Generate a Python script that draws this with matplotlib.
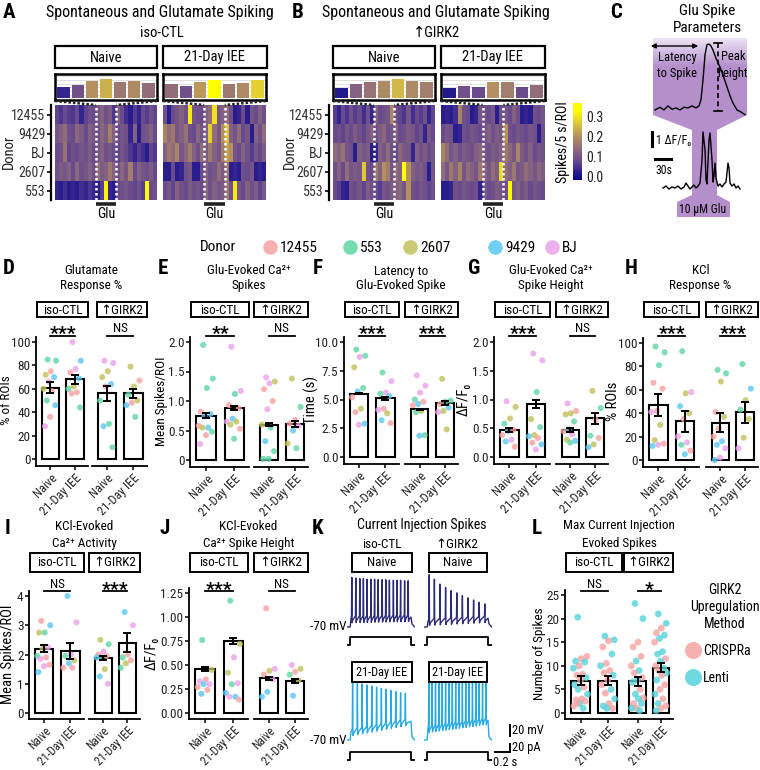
import numpy as np
import matplotlib
matplotlib.use("Agg")
import matplotlib.pyplot as plt
from matplotlib import font_manager
from matplotlib.colors import LinearSegmentedColormap, Normalize
from matplotlib.patches import Rectangle, Polygon
from matplotlib.cm import ScalarMappable

_tt = font_manager.fontManager.ttflist
_names = {f.name for f in _tt}
FS = 1.0
_chosen = None
for cand in ['Liberation Sans Narrow', 'Arial Narrow', 'Roboto Condensed', 'Archivo Narrow']:
    if cand in _names:
        _chosen = cand
        break
if _chosen:
    plt.rcParams['font.family'] = [_chosen, 'DejaVu Sans']
else:
    plt.rcParams['font.family'] = ['Liberation Sans', 'DejaVu Sans']
    FS = 0.86

# ===================== DATA =====================
HM_ROWS = ['12455', '9429', 'BJ', '2607', '553']
GLU_WIN = (10, 15)   # glutamate window (columns)

# heatmaps: spikes / 5 s / ROI  (x 0.01)
HM_A_NAIVE = [
    [7, 5, 8, 6, 5, 8, 3, 7, 9, 8, 10, 12, 9, 11, 5, 12, 8, 4, 2, 6, 3, 8, 6, 9, 7],
    [10, 12, 14, 9, 8, 13, 11, 8, 12, 10, 9, 13, 11, 17, 12, 8, 10, 9, 3, 12, 2, 9, 10, 12, 8],
    [8, 9, 15, 7, 9, 8, 10, 9, 11, 8, 10, 12, 9, 10, 8, 7, 10, 8, 5, 3, 6, 4, 2, 7, 5],
    [9, 11, 10, 12, 8, 13, 9, 10, 12, 9, 14, 11, 12, 16, 12, 9, 13, 10, 17, 8, 12, 10, 9, 11, 8],
    [3, 2, 4, 2, 3, 2, 4, 3, 5, 3, 2, 6, 32, 3, 2, 8, 9, 10, 8, 7, 9, 6, 33, 8, 9]]
HM_A_IEE = [
    [9, 2, 8, 10, 12, 9, 31, 10, 9, 8, 12, 14, 30, 10, 12, 14, 9, 2, 3, 8, 2, 10, 8, 12, 9],
    [18, 14, 16, 10, 12, 15, 9, 8, 13, 10, 12, 28, 14, 10, 20, 26, 12, 10, 14, 8, 10, 2, 12, 9, 14],
    [12, 16, 14, 18, 10, 13, 17, 12, 9, 14, 11, 16, 12, 10, 17, 22, 20, 10, 8, 12, 9, 6, 10, 8, 11],
    [2, 2, 8, 2, 3, 9, 10, 2, 2, 8, 12, 9, 10, 14, 11, 16, 2, 3, 2, 9, 8, 10, 2, 3, 2],
    [8, 10, 7, 12, 9, 8, 11, 9, 10, 8, 13, 9, 12, 10, 11, 16, 9, 31, 10, 8, 12, 9, 11, 7, 10]]
HM_B_NAIVE = [
    [6, 3, 8, 5, 9, 6, 8, 4, 9, 3, 12, 8, 9, 10, 18, 9, 7, 5, 10, 4, 8, 6, 9, 3, 7],
    [8, 9, 7, 10, 8, 11, 9, 7, 10, 12, 9, 11, 13, 9, 10, 12, 8, 9, 11, 10, 7, 9, 3, 10, 8],
    [14, 12, 15, 10, 9, 2, 12, 10, 11, 2, 3, 12, 10, 14, 9, 8, 13, 11, 10, 3, 12, 9, 11, 8, 10],
    [9, 12, 8, 14, 10, 11, 10, 27, 9, 8, 16, 12, 20, 17, 10, 14, 12, 33, 20, 12, 10, 11, 9, 2, 10],
    [8, 6, 3, 2, 9, 8, 10, 7, 11, 9, 8, 6, 10, 9, 11, 12, 13, 10, 20, 9, 8, 10, 9, 7, 9]]
HM_B_IEE = [
    [2, 3, 2, 4, 18, 9, 8, 2, 3, 10, 9, 8, 10, 2, 9, 10, 8, 12, 9, 2, 3, 2, 9, 8, 10],
    [8, 10, 9, 2, 3, 9, 8, 10, 9, 8, 10, 12, 9, 11, 10, 20, 9, 8, 10, 9, 8, 10, 9, 2, 9],
    [18, 14, 10, 12, 9, 11, 10, 9, 12, 13, 10, 9, 11, 10, 12, 16, 13, 10, 18, 11, 9, 12, 8, 10, 9],
    [14, 10, 16, 12, 18, 10, 14, 12, 10, 16, 12, 10, 14, 11, 29, 14, 12, 16, 10, 11, 14, 12, 10, 13, 11],
    [2, 2, 3, 9, 8, 10, 9, 8, 9, 3, 10, 8, 9, 11, 10, 9, 33, 10, 12, 9, 11, 8, 10, 9, 8]]

# zoomed glutamate-window bars (relative height, colour value)
ZB_A_NAIVE_H = [0.42, 0.51, 0.69, 0.74, 0.65, 0.68, 0.59]
ZB_A_NAIVE_C = [0.03, 0.09, 0.20, 0.24, 0.16, 0.19, 0.14]
ZB_A_IEE_H = [0.54, 0.47, 0.62, 0.73, 0.57, 0.61, 0.70]
ZB_A_IEE_C = [0.14, 0.09, 0.21, 0.33, 0.16, 0.19, 0.28]
ZB_B_NAIVE_H = [0.41, 0.55, 0.64, 0.69, 0.76, 0.68, 0.64]
ZB_B_NAIVE_C = [0.01, 0.12, 0.15, 0.19, 0.25, 0.19, 0.17]
ZB_B_IEE_H = [0.38, 0.47, 0.43, 0.62, 0.64, 0.45, 0.53]
ZB_B_IEE_C = [0.01, 0.09, 0.08, 0.20, 0.17, 0.08, 0.14]

CB_TICKS = [0.0, 0.1, 0.2, 0.3]

# panel C traces
C_ZOOM_T = [0.4, 1.4, 2.2, 3.0, 3.8, 4.6, 5.4, 6.2, 7.0, 7.8, 8.6, 9.2, 9.6, 10.0, 10.4, 10.8,
            11.2, 11.6, 12.0, 12.6, 13.4, 14.2, 14.8, 15.4, 16.0, 16.8, 17.6, 18.4]
C_ZOOM_F = [0.03, 0.07, 0.03, 0.09, 0.04, 0.06, 0.03, 0.07, 0.06, 0.09, 0.06, 0.09, 0.18, 0.47,
            0.84, 0.99, 1.0, 0.97, 0.91, 0.79, 0.66, 0.50, 0.37, 0.24, 0.13, 0.03, 0.0, -0.04]
C_FULL_T = [5.6, 11.3, 16.9, 22.5, 28.1, 33.8, 39.4, 45.0, 48.8, 52.5, 56.3, 60.0, 63.8, 67.5,
            71.3, 75.0, 78.8, 80.6, 84.4, 86.3, 88.1, 91.9, 93.8, 97.5, 99.4, 101.3, 103.1,
            105.0, 108.8, 112.5, 116.3, 120.0, 123.8, 127.5, 129.4, 131.3, 135.0, 138.8,
            142.5, 146.3, 150.0]
C_FULL_F = [0.0, 0.15, -0.08, 0.08, 0.0, 0.15, -0.08, 0.08, 0.38, 0.15, -0.08, 0.08, 0.23, 0.0,
            0.15, 0.38, 2.15, 4.31, 2.92, 0.62, 0.31, 3.69, 4.23, 2.15, 0.46, 1.0, 1.92, 0.77,
            0.15, 0.31, 0.08, 0.31, 0.46, 1.92, 1.54, 0.38, 0.15, 0.31, 0.0, 0.15, -0.08]

DONORS = ['12455', '553', '2607', '9429', 'BJ']
DONOR_CODES = ['S', 'G', 'O', 'B', 'P']
GROUP_LABELS = ['Naive', '21-Day IEE']

D_VALS = [[85, 84, 75, 72, 70, 66, 60, 58, 50, 46, 36, 28],
          [100, 84, 77, 74, 69, 62, 60, 57, 56, 44],
          [84, 82, 75, 70, 64, 62, 50, 30, 28, 10],
          [79, 67, 62, 55, 50, 48, 46, 36]]
D_DON = ["GGSOBPOSGBSP", "PBPSBOGSSG", "PPOOBSGGBG", "OSOGOSBG"]
D_MEAN = [61, 68, 56, 56]
D_SEM = [5, 4, 6.5, 4]
D_SIG = ['***', 'NS']

E_VALS = [[1.95, 1.38, 1.22, 0.82, 0.78, 0.74, 0.58, 0.55, 0.55, 0.48, 0.42, 0.27],
          [1.92, 1.17, 1.12, 0.93, 0.88, 0.70, 0.65, 0.65, 0.60, 0.53, 0.36],
          [1.40, 1.33, 1.30, 1.20, 1.00, 0.86, 0.60, 0.55, 0.32, 0.15, 0.02, 0.02],
          [1.38, 0.90, 0.68, 0.62, 0.58, 0.50, 0.28, 0.20]]
E_DON = ["GGGSBBSBOGSP", "PPGSSBPOOSG", "POPSSPOGBGGG", "OGSSPBOG"]
E_MEAN = [0.75, 0.88, 0.60, 0.61]
E_SEM = [0.04, 0.04, 0.03, 0.05]
E_SIG = ['**', 'NS']

F_VALS = [[9.35, 8.8, 8.7, 7.8, 6.0, 5.7, 5.2, 4.2, 3.9, 2.9, 2.8],
          [7.35, 6.6, 5.6, 5.5, 5.3, 4.2, 4.1, 3.8, 3.2, 2.95],
          [7.1, 6.2, 5.6, 5.0, 4.8, 4.6, 4.5, 4.0, 3.9, 1.9, 1.85],
          [6.8, 4.9, 4.8, 4.6, 4.3, 4.0, 3.9, 2.4]]
F_DON = ["GGPOGBSOSBP", "GPPGBSPOBS", "PPPGSBSOGGB", "OGGSBOPO"]
F_MEAN = [5.5, 5.1, 4.15, 4.7]
F_SEM = [0.05, 0.15, 0.05, 0.15]
F_SIG = ['***', '***']

G_VALS = [[0.97, 0.87, 0.67, 0.58, 0.47, 0.45, 0.38, 0.30, 0.27, 0.18],
          [1.80, 1.68, 1.13, 0.66, 0.52, 0.38, 0.36, 0.33, 0.25, 0.22, 0.13],
          [0.93, 0.80, 0.76, 0.74, 0.62, 0.48, 0.45, 0.40, 0.30, 0.28, 0.25],
          [1.15, 0.85, 0.65, 0.37, 0.33, 0.22, 0.17]]
G_DON = ["POOGSBSPBS", "PPGOGOBSSBP", "PSOOGBSPOBG", "OGSGSOB"]
G_MEAN = [0.47, 0.92, 0.47, 0.67]
G_SEM = [0.03, 0.07, 0.04, 0.09]
G_SIG = ['***', 'NS']

H_VALS = [[97, 92, 81, 66, 61, 42, 41, 30, 17, 14, 13, 12],
          [93, 58, 57, 46, 40, 35, 20, 15, 13, 8, 5],
          [77, 74, 67, 41, 37, 27, 20, 16, 13, 10, 2, 0],
          [82, 61, 51, 43, 35, 19, 10]]
H_DON = ["GGGSSSPOOSPB", "GPOBOSPPGSB", "GGOSOSSBBPPB", "GBOGOOP"]
H_MEAN = [47, 33, 32, 41]
H_SEM = [9, 9, 8, 9]
H_SIG = ['***', '***']

I_VALS = [[3.15, 3.0, 2.75, 2.75, 2.25, 2.2, 1.95, 1.9, 1.85, 1.65, 1.6, 1.4],
          [4.0, 3.1, 2.0, 1.95, 1.8, 1.7, 1.55, 1.55],
          [2.5, 2.35, 2.1, 2.0, 1.95, 1.9, 1.9, 1.5, 1.25, 1.0],
          [3.45, 3.0, 2.0, 1.9, 1.8, 1.7, 1.55]]
I_DON = ["SBGOPOGSPSPB", "BPPGOBSS", "OGPSSGBOBP", "BPSGSOG"]
I_MEAN = [2.2, 2.12, 1.88, 2.4]
I_SEM = [0.12, 0.27, 0.08, 0.32]
I_SIG = ['NS', '***']

J_VALS = [[0.76, 0.45, 0.35, 0.33, 0.30, 0.30, 0.27, 0.24, 0.20],
          [1.17, 0.72, 0.58, 0.42, 0.31, 0.30, 0.21, 0.17, 0.17, 0.14],
          [1.09, 0.46, 0.44, 0.40, 0.35, 0.22, 0.17],
          [0.50, 0.46, 0.43, 0.40, 0.34, 0.18]]
J_DON = ["GOSPPBSSB", "GOPOPGBBPS", "SPOSPBB", "POSGOB"]
J_MEAN = [0.46, 0.75, 0.36, 0.33]
J_SEM = [0.02, 0.03, 0.02, 0.02]
J_SIG = ['***', 'NS']

METHODS = ['CRISPRa', 'Lenti']
L_VALS = [[20.3, 12, 11.5, 11, 10.8, 10, 9.5, 8.2, 8, 7.5, 7, 6, 5.5, 5, 4, 3, 2.8, 2.5, 2, 1.5, 1, 2.2],
          [16.3, 15.5, 15.3, 14, 12.5, 10.5, 10, 9, 8.5, 8, 7, 6, 5, 4.2, 3, 2, 1.5, 1, 1],
          [23.2, 20, 15, 14, 12, 11, 10, 9, 8.5, 7.5, 7, 6.5, 5, 4, 3.2, 3, 2, 2, 1, 1, 0.5],
          [21, 19, 18, 17, 16.5, 15.8, 15, 13, 12.5, 11.5, 11, 10, 9.5, 9, 8.5, 8, 7, 6, 5, 4, 3, 2,
           1.5, 1, 0.5]]
L_MET = ["LCCLLCLCCLCLCLLCCCLCLC", "LLCCLCLCCLCCLCLCLCL", "LLCCCLCLCCLLCLCLCLCLL",
         "LLCCLLCLLCLCLCLCLCCLCLCCL"]
L_MEAN = [6.8, 6.8, 6.7, 9.6]
L_SEM = [0.95, 0.95, 0.95, 1.0]
L_SIG = ['NS', '*']

# current injection (panel K)
K_HOLD = -70.0
K_STEP = (0.04, 0.80)
K_T_END = 0.85
K_STEP_PA = 20
K_ISO_NAIVE_T = [0.06, 0.11, 0.16, 0.205, 0.25, 0.30, 0.345, 0.39, 0.44, 0.485, 0.53, 0.58,
                 0.625, 0.67, 0.72, 0.765]
K_ISO_NAIVE_P = [20, 19, 18, 18, 17, 17, 17, 16, 16, 16, 15, 15, 15, 15, 14, 14]
K_ISO_NAIVE_TR = (-58, -56)
K_GIRK_NAIVE_T = [0.065, 0.13, 0.20, 0.27, 0.34, 0.41, 0.48, 0.55, 0.62, 0.69, 0.76]
K_GIRK_NAIVE_P = [25, 17, 8, 2, -4, -8, -13, -17, -21, -25, -28]
K_GIRK_NAIVE_TR = (-63, -58)
K_ISO_IEE_T = [0.07, 0.13, 0.19, 0.25, 0.31, 0.37, 0.43, 0.49, 0.55, 0.61, 0.67, 0.73]
K_ISO_IEE_P = [35, 34, 32, 30, 28, 26, 24, 22, 20, 18, 16, 15]
K_ISO_IEE_TR = (-58, -40)
K_GIRK_IEE_T = [0.06, 0.102, 0.144, 0.186, 0.228, 0.27, 0.312, 0.354, 0.396, 0.438, 0.48,
                0.522, 0.564, 0.606, 0.648, 0.69, 0.732, 0.774]
K_GIRK_IEE_P = [35, 36, 36, 36, 36, 35, 35, 35, 35, 35, 34, 34, 34, 34, 33, 33, 33, 33]
K_GIRK_IEE_TR = (-52, -38)

# ===================== STYLE =====================
W, H = 760, 770
COL = {'S': '#F7A1A1', 'G': '#5FD5A5', 'O': '#C1C05C', 'B': '#5BC6F2', 'P': '#EBA2EA',
       'C': '#F5A3A3', 'L': '#55D3DA'}
NAIVE_C = '#2B2B78'
IEE_C = '#27A9E6'

_nodes = [(-0.02, '#0A0A88'), (0.02, '#2A1E8E'), (0.05, '#4E3790'), (0.08, '#6A4B8C'),
          (0.12, '#846282'), (0.16, '#9C7870'), (0.20, '#B49060'), (0.25, '#D2B848'),
          (0.30, '#F0E020'), (0.33, '#FFFF00'), (0.37, '#FFFF00')]
VMIN, VMAX = -0.02, 0.37
CMAP = LinearSegmentedColormap.from_list(
    'spk', [((v - VMIN) / (VMAX - VMIN), c) for v, c in _nodes])
NORM = Normalize(VMIN, VMAX)

fig = plt.figure(figsize=(W / 100, H / 100), dpi=100)


def pax(x0, y0, x1, y1, **kw):
    a = fig.add_axes([x0 / W, 1 - y1 / H, (x1 - x0) / W, (y1 - y0) / H], **kw)
    a.patch.set_alpha(0)
    return a


ov = fig.add_axes([0, 0, 1, 1], zorder=20)
ov.set_xlim(0, W)
ov.set_ylim(H, 0)
ov.axis('off')


def T(x, y, s, size, ha='center', va='center', **kw):
    ov.text(x, y, s, fontsize=size * FS, ha=ha, va=va, **kw)


def box(x0, y0, x1, y1, label, size, lw=1.4):
    ov.add_patch(Rectangle((x0, y0), x1 - x0, y1 - y0, fill=False, ec='black', lw=lw))
    T((x0 + x1) / 2, (y0 + y1) / 2 + 0.5, label, size)


def letter(x, y, s):
    T(x, y, s, 15, ha='left', fontweight='bold')


# ===================== A / B heatmaps =====================
def heat_block(x0, x1, mat, bh, bc, show_y, ylab_x):
    arr = np.array(mat) * 0.01
    nr, nc = arr.shape
    hax = pax(x0, 105, x1, 200)
    hax.imshow(arr, cmap=CMAP, norm=NORM, aspect='auto', interpolation='nearest',
               extent=(0, nc, nr, 0))
    for g in GLU_WIN:
        hax.axvline(g, color='white', ls=(0, (1.0, 1.0)), lw=1.8)
    hax.set_xticks([])
    for s in ['top', 'right', 'bottom']:
        hax.spines[s].set_visible(False)
    if show_y:
        hax.spines['left'].set_position(('outward', 3))
        hax.spines['left'].set_lw(1.6)
        hax.set_yticks(np.arange(nr) + 0.5, HM_ROWS, fontsize=10 * FS, color='#333333')
        hax.tick_params(axis='y', length=3, width=1.2, pad=1)
        T(ylab_x, 152, 'Donor', 10.5, rotation=90, color='#222222')
    else:
        hax.spines['left'].set_visible(False)
        hax.set_yticks([])
    bax = pax(x0, 74, x1, 100)
    bax.patch.set_alpha(1)
    bax.bar(np.arange(len(bh)), bh, width=0.86, color=CMAP(NORM(np.array(bc))), zorder=2)
    bax.set_xlim(-0.6, len(bh) - 0.4)
    bax.set_ylim(-0.08, 0.95)
    bax.set_yticks([0.12, 0.27, 0.42, 0.57, 0.72, 0.87])
    bax.grid(axis='y', color='#dcdcdc', lw=0.6, zorder=0)
    bax.set_yticklabels([])
    bax.set_xticks([])
    bax.tick_params(length=0)
    for s in bax.spines.values():
        s.set_lw(1.8)
    wx0 = x0 + (x1 - x0) * GLU_WIN[0] / nc
    wx1 = x0 + (x1 - x0) * GLU_WIN[1] / nc
    ov.plot([x0, wx0], [101, 105], color='#222222', ls=(0, (1, 0.8)), lw=1.8)
    ov.plot([x1, wx1], [101, 105], color='#222222', ls=(0, (1, 0.8)), lw=1.8)
    ov.plot([wx0, wx1], [203.5, 203.5], color='#222222', lw=2.6, solid_capstyle='butt')
    T((wx0 + wx1) / 2, 214, 'Glu', 10)


letter(3, 13, 'A')
T(160, 12, 'Spontaneous and Glutamate Spiking', 11.5)
T(162, 33, 'iso-CTL', 10.5)
box(55, 46, 157, 68, 'Naive', 10.5, lw=1.6)
box(163, 46, 267, 68, '21-Day IEE', 10.5, lw=1.6)
heat_block(55, 157, HM_A_NAIVE, ZB_A_NAIVE_H, ZB_A_NAIVE_C, True, 9)
heat_block(163, 266, HM_A_IEE, ZB_A_IEE_H, ZB_A_IEE_C, False, 0)

letter(292, 13, 'B')
T(436, 12, 'Spontaneous and Glutamate Spiking', 11.5)
T(437, 33, '↑GIRK2', 10.5)
box(333, 46, 435, 68, 'Naive', 10.5, lw=1.6)
box(441, 46, 545, 68, '21-Day IEE', 10.5, lw=1.6)
heat_block(333, 435, HM_B_NAIVE, ZB_B_NAIVE_H, ZB_B_NAIVE_C, True, 290)
heat_block(441, 545, HM_B_IEE, ZB_B_IEE_H, ZB_B_IEE_C, False, 0)

cax = pax(573, 103, 582, 180)
cb = fig.colorbar(ScalarMappable(norm=NORM, cmap=CMAP), cax=cax)
cb.outline.set_visible(False)
cb.set_ticks(CB_TICKS)
cb.set_ticklabels([f'{t:.1f}' for t in CB_TICKS])
cax.tick_params(labelsize=10 * FS, length=0, pad=3, colors='#222222')
T(563, 142, 'Spikes/5 s/ROI', 10, rotation=90)

# ===================== C =====================
letter(610, 13, 'C')
T(707, 11, 'Glu Spike', 11)
T(707, 28, 'Parameters', 11)
shape = [(653, 38), (747, 38), (747, 115), (717, 130), (717, 195), (730, 202), (730, 217),
         (677, 217), (677, 202), (692, 195), (692, 130), (653, 115)]
poly = Polygon(shape, closed=True, fc='none', ec='none')
ov.add_patch(poly)
yy = np.linspace(30, 220, 200)
wgt = np.clip((yy - 38) / 28.0, 0, 1)[:, None]
c_top = np.array([0.93, 0.89, 0.96])
c_mid = np.array([0.71, 0.56, 0.80])
grad = (c_top * (1 - wgt) + c_mid * wgt)[:, None, :]
im = ov.imshow(grad, extent=(640, 760, 220, 30), aspect='auto', zorder=1, interpolation='bilinear')
im.set_clip_path(poly)
ov.set_xlim(0, W)
ov.set_ylim(H, 0)

czx = pax(653, 38, 747, 118, zorder=30)
czx.plot(C_ZOOM_T, C_ZOOM_F, color='black', lw=1.0)
czx.set_xlim(0, 18.8)
czx.set_ylim(-(118 - 112) / 68, (112 - 38) / 68)
czx.axis('off')
cfx = pax(660, 125, 742, 195, zorder=30)
cfx.plot(C_FULL_T, C_FULL_F, color='black', lw=1.0)
cfx.set_xlim(0, 82 * 1.875)
cfx.set_ylim(-(195 - 188) / 13, (188 - 125) / 13)
cfx.axis('off')
ov.annotate('', xy=(648, 46), xytext=(701, 46),
            arrowprops=dict(arrowstyle='<|-|>', lw=1.0, color='black', mutation_scale=7))
T(677, 57, 'Latency', 9)
T(677, 73, 'to Spike', 9)
ov.plot([718, 718], [43, 111], color='black', ls=(0, (3, 2)), lw=1.2)
ov.plot([714, 722], [43, 43], color='black', lw=1.2)
ov.plot([714, 722], [111, 111], color='black', lw=1.2)
T(733, 57, 'Peak', 9)
T(733, 73, 'height', 9)
ov.plot([652, 652], [132, 146], color='black', lw=2.2)
T(656, 141, '1 ΔF/F₀', 8.5, ha='left')
ov.plot([655, 671], [159, 159], color='black', lw=2.2)
T(656, 171, '30s', 8.5, ha='left')
T(703, 210, '10 µM Glu', 8.5)

# ===================== donor legend =====================
T(200, 247, 'Donor', 11, ha='left')
leg_x = [270, 350, 410, 495, 552]
for code, name, lx in zip(DONOR_CODES, DONORS, leg_x):
    ov.scatter([lx], [247], s=110, color=COL[code], alpha=0.85, lw=0, zorder=3)
    T(lx + 10, 248, name, 11, ha='left')

# ===================== stat panels =====================
XL = (0.42, 2.52)
ROW2 = dict(box=(302, 317), sig_base=332.5, sig_line=335.5, title_y=(271, 286), spine=7)
ROW3 = dict(box=(553, 572), sig_base=588, sig_line=591, title_y=(526, 543), spine=6)


def jit(n):
    return ((np.arange(n) * 0.618034 + 0.3) % 1.0 - 0.5) * 0.55


def stat_panel(ax_x, l_end, r0, r1, ytop_px, y0_px, row, ticks, ticklabels,
               vals, codes, means, sems, sigs, title, ylabel, ylabel_x, ylabel_size=9.5,
               box_l=None, box_r=None, psize=19, xt_size=9.0):
    ymax = ticks[-1]
    ppu = (y0_px - ytop_px) / ymax
    top_px = ytop_px - 5
    bot_px = y0_px + row['spine']
    ylim = (-(bot_px - y0_px) / ppu, ymax + (ytop_px - top_px) / ppu)
    axes = [pax(ax_x, top_px, l_end, bot_px), pax(r0, top_px, r1, bot_px)]
    centers = []
    for k, ax in enumerate(axes):
        x0 = ax_x if k == 0 else r0
        x1 = l_end if k == 0 else r1
        cs = []
        for j in range(2):
            g = 2 * k + j
            ax.bar(j + 1, means[g], width=0.7, facecolor='white', edgecolor='black', lw=1.5,
                   zorder=1)
            v = np.array(vals[g], dtype=float)
            ax.scatter(j + 1 + jit(len(v)), v, s=psize, c=[COL[c] for c in codes[g]],
                       alpha=0.8, lw=0, zorder=2, clip_on=False)
            ax.errorbar(j + 1, means[g], yerr=sems[g], color='black', capsize=3.2, lw=1.4,
                        capthick=1.4, zorder=3)
            cs.append(x0 + (j + 1 - XL[0]) / (XL[1] - XL[0]) * (x1 - x0))
        centers.append(cs)
        ax.set_xlim(*XL)
        ax.set_ylim(*ylim)
        ax.set_xticks([1, 2])
        ax.set_xticklabels(GROUP_LABELS, rotation=45, ha='right', va='top',
                           rotation_mode='anchor', fontsize=xt_size * FS, color='#222222')
        ax.tick_params(axis='x', length=3, width=1.1, pad=1.0)
        ax.spines['top'].set_visible(False)
        ax.spines['right'].set_visible(False)
        ax.spines['bottom'].set_lw(1.3)
        if k == 0:
            ax.spines['left'].set_lw(1.3)
            ax.set_yticks(ticks, ticklabels, fontsize=9.5 * FS, color='#222222')
            ax.tick_params(axis='y', length=3, width=1.1, pad=1)
        else:
            ax.spines['left'].set_visible(False)
            ax.set_yticks([])
    by0, by1 = row['box']
    bl = box_l if box_l else (ax_x + 1, l_end)
    br = box_r if box_r else (r0, r1)
    box(bl[0], by0, bl[1], by1, 'iso-CTL', 9.5)
    box(br[0], by0, br[1], by1, '↑GIRK2', 9.5)
    for cs, s in zip(centers, sigs):
        ov.plot(cs, [row['sig_line']] * 2, color='black', lw=1.3)
        if s == 'NS':
            T(np.mean(cs), row['sig_base'], s, 9.5, va='baseline')
        else:
            T(np.mean(cs), row['sig_base'] + 6.5, s, 14, va='baseline', fontweight='bold')
    cx = (ax_x + r1) / 2
    T(cx, row['title_y'][0], title[0], 9.5)
    T(cx, row['title_y'][1], title[1], 9.5)
    T(ylabel_x, (ytop_px + y0_px) / 2, ylabel, ylabel_size, rotation=90)


letter(3, 268, 'D')
stat_panel(36, 88, 92, 147, 342, 459, ROW2, [0, 20, 40, 60, 80, 100],
           ['0', '20', '40', '60', '80', '100'], D_VALS, D_DON, D_MEAN, D_SEM, D_SIG,
           ('Glutamate', 'Response %'), '% of ROIs', 7, box_r=(97, 147))
letter(158, 268, 'E')
stat_panel(190, 249, 254, 308, 342, 460, ROW2, [0, 0.5, 1.0, 1.5, 2.0],
           ['0', '0.5', '1.0', '1.5', '2.0'], E_VALS, E_DON, E_MEAN, E_SEM, E_SIG,
           ('Glu-Evoked Ca²⁺', 'Spikes'), 'Mean Spikes/ROI', 162)
letter(313, 268, 'F')
stat_panel(344, 399, 405, 458, 342, 457, ROW2, [0, 2.5, 5.0, 7.5, 10.0],
           ['0.0', '2.5', '5.0', '7.5', '10.0'], F_VALS, F_DON, F_MEAN, F_SEM, F_SIG,
           ('Latency to', 'Glu-Evoked Spike'), 'Time (s)', 311, ylabel_size=10.5)
letter(468, 268, 'G')
stat_panel(494, 550, 556, 608, 342, 457, ROW2, [0, 0.5, 1.0, 1.5, 2.0],
           ['0.0', '0.5', '1.0', '1.5', '2.0'], G_VALS, G_DON, G_MEAN, G_SEM, G_SIG,
           ('Glu-Evoked Ca²⁺', 'Spike Height'), 'ΔF/F₀', 464, ylabel_size=10.5)
letter(625, 268, 'H')
stat_panel(643, 699, 706, 758, 343, 460, ROW2, [0, 20, 40, 60, 80, 100],
           ['0', '20', '40', '60', '80', '100'], H_VALS, H_DON, H_MEAN, H_SEM, H_SIG,
           ('KCl', 'Response %'), '% ROIs', 613, ylabel_size=10.5)

letter(5, 528, 'I')
stat_panel(29, 84, 89, 140, 596, 713, ROW3, [0, 1, 2, 3, 4],
           ['0', '1', '2', '3', '4'], I_VALS, I_DON, I_MEAN, I_SEM, I_SIG,
           ('KCl-Evoked', 'Ca²⁺ Activity'), 'Mean Spikes/ROI', 8, ylabel_size=10.5,
           xt_size=8.5)
letter(160, 528, 'J')
stat_panel(189, 248, 254, 308, 593, 713, ROW3, [0, 0.25, 0.5, 0.75, 1.0, 1.25],
           ['0.00', '0.25', '0.50', '0.75', '1.00', '1.25'], J_VALS, J_DON, J_MEAN, J_SEM,
           J_SIG, ('KCl-Evoked', 'Ca²⁺ Spike Height'), 'ΔF/F₀', 152, ylabel_size=10.5,
           xt_size=8.5)
letter(532, 528, 'L')
stat_panel(565, 622, 624, 673, 595, 713, ROW3, [0, 5, 10, 15, 20, 25],
           ['0', '5', '10', '15', '20', '25'], L_VALS, L_MET, L_MEAN, L_SEM, L_SIG,
           ('Max Current Injection', 'Evoked Spikes'), 'Number of Spikes', 540,
           ylabel_size=9.5, psize=24, xt_size=8.5)
T(725, 590, 'GIRK2', 10)
T(725, 607, 'Upregulation', 10)
T(725, 624, 'Method', 10)
for code, name, ly in zip(['C', 'L'], METHODS, [650, 677]):
    ov.scatter([693], [ly], s=150, color=COL[code], alpha=0.85, lw=0)
    T(703, ly + 1, name, 10, ha='left')

# ===================== K =====================
letter(312, 528, 'K')
T(422, 525, 'Current Injection Spikes', 10)
T(382, 544, 'iso-CTL', 9.5)
T(457, 544, '↑GIRK2', 9.5)
box(352, 553, 412, 572, 'Naive', 9.5)
box(429, 553, 487, 572, 'Naive', 9.5)
box(352, 662, 412, 682, '21-Day IEE', 8.8)
box(429, 662, 487, 682, '21-Day IEE', 8.8)


def build_trace(times, peaks, trs):
    t_on, t_off = K_STEP
    tt = [0.0, t_on, t_on + 0.01]
    vv = [K_HOLD, K_HOLD, trs[0] + 3]
    n = len(times)
    for i, (s, p) in enumerate(zip(times, peaks)):
        tr = trs[0] + (trs[1] - trs[0]) * i / max(n - 1, 1)
        tt += [s - 0.004, s, s + 0.004, s + 0.010]
        vv += [tr + 8, p, tr - 4, tr]
    tt += [t_off, t_off + 0.012, t_off + 0.035, K_T_END]
    vv += [trs[1] + 4, K_HOLD + 6, K_HOLD + 1.5, K_HOLD]
    return tt, vv


def k_trace(x0, x1, ty0, ty1, sy0, sy1, times, peaks, trs, color):
    tax = pax(x0, ty0, x1, ty1)
    tt, vv = build_trace(times, peaks, trs)
    tax.plot(tt, vv, color=color, lw=1.0)
    tax.set_xlim(0, K_T_END)
    tax.set_ylim(K_HOLD - 5 / 0.55, K_HOLD + (ty1 - 5 - ty0) / 0.55)
    tax.axis('off')
    sax = pax(x0, sy0, x1, sy1)
    t_on, t_off = K_STEP
    sax.plot([0, t_on, t_on, t_off, t_off, K_T_END], [0, 0, K_STEP_PA, K_STEP_PA, 0, 0],
             color='black', lw=1.3)
    sax.set_xlim(0, K_T_END)
    sax.set_ylim(-3 / 0.4, K_STEP_PA + (sy1 - sy0 - 11) / 0.4)
    sax.axis('off')


k_trace(347, 415, 572, 632, 634, 648, K_ISO_NAIVE_T, K_ISO_NAIVE_P, K_ISO_NAIVE_TR, NAIVE_C)
k_trace(424, 492, 572, 632, 634, 648, K_GIRK_NAIVE_T, K_GIRK_NAIVE_P, K_GIRK_NAIVE_TR, NAIVE_C)
k_trace(347, 415, 676, 745, 748, 763, K_ISO_IEE_T, K_ISO_IEE_P, K_ISO_IEE_TR, IEE_C)
k_trace(424, 492, 676, 745, 748, 763, K_GIRK_IEE_T, K_GIRK_IEE_P, K_GIRK_IEE_TR, IEE_C)
T(346, 627, '-70 mV', 9.5, ha='right')
T(346, 740, '-70 mV', 9.5, ha='right')
ov.plot([510, 510], [725, 736], color='black', lw=1.4)
T(512, 731, '20 mV', 9, ha='left')
ov.plot([510, 510], [744, 752], color='black', lw=1.4)
ov.plot([495, 510], [752, 752], color='black', lw=1.4)
T(512, 748, '20 pA', 9, ha='left')
T(505, 762, '0.2 s', 9)

ov.set_xlim(0, W)
ov.set_ylim(H, 0)
fig.savefig('out.png', dpi=100)
